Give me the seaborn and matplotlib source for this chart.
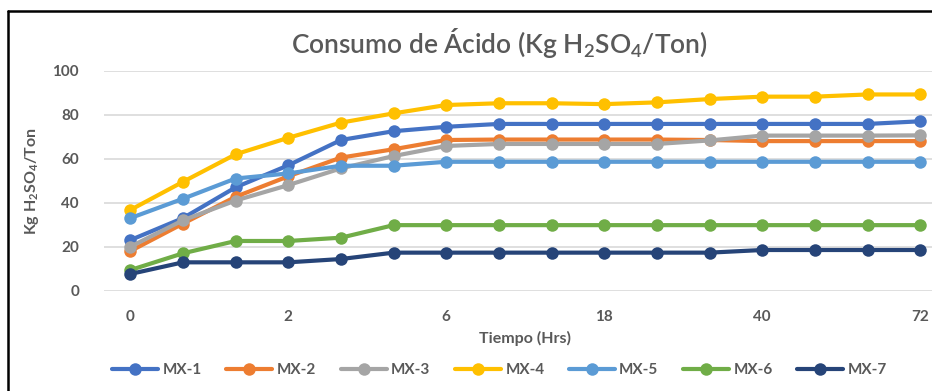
import pandas as pd
import seaborn as sns
import matplotlib.pyplot as plt
from matplotlib.lines import Line2D

# time points (hours) - only every third one is labelled on the axis
tiempo = ["0", "0.5", "1", "2", "3", "4", "6", "8", "12", "18", "24", "30", "40", "48", "60", "72"]
series = ["MX-1", "MX-2", "MX-3", "MX-4", "MX-5", "MX-6", "MX-7"]

mx1 = [23, 33, 47, 57, 68.5, 72.5, 74.5, 75.8, 75.8, 75.8, 75.8, 75.8, 75.8, 75.8, 75.8, 77]
mx2 = [18, 30.5, 42.7, 52, 60.5, 64.3, 68.5, 68.7, 68.7, 68.7, 68.7, 68.5, 68, 68, 68, 68]
mx3 = [20, 32, 41, 48, 55.6, 61.2, 65.8, 66.7, 66.7, 66.7, 66.7, 68.3, 70.5, 70.5, 70.5, 70.6]
mx4 = [36.7, 49.5, 62, 69.5, 76.4, 80.6, 84.4, 85.2, 85.2, 84.8, 85.6, 87.1, 88.2, 88.2, 89.2, 89.2]
mx5 = [33, 41.8, 51, 53.3, 56.8, 56.8, 58.6, 58.6, 58.6, 58.6, 58.6, 58.6, 58.6, 58.6, 58.6, 58.6]
mx6 = [9.4, 17, 22.6, 22.6, 24.1, 29.8, 29.8, 29.8, 29.8, 29.8, 29.8, 29.8, 29.8, 29.8, 29.8, 29.8]
mx7 = [7.6, 12.9, 12.9, 12.9, 14.4, 17.3, 17.3, 17.3, 17.3, 17.3, 17.3, 17.3, 18.5, 18.5, 18.5, 18.5]

colors = ["#4472C4", "#ED7D31", "#A5A5A5", "#FFC000", "#5B9BD5", "#70AD47", "#264478"]
tick_pos = [0, 3, 6, 9, 12, 15]
tick_lab = ["0", "2", "6", "18", "40", "72"]

sns.set_theme(style="white")
plt.rcParams["font.family"] = ["Lato", "DejaVu Sans"]
plt.rcParams["mathtext.fontset"] = "custom"
plt.rcParams["mathtext.rm"] = "Lato"
plt.rcParams["mathtext.bf"] = "Lato:bold"
plt.rcParams["mathtext.default"] = "regular"

rows = []
for name, vals in zip(series, [mx1, mx2, mx3, mx4, mx5, mx6, mx7]):
    for i, v in enumerate(vals):
        rows.append({"idx": i, "tiempo": tiempo[i], "valor": v, "serie": name})
df = pd.DataFrame(rows)

gray = "#595959"
fig = plt.figure(figsize=(9.32, 3.91), dpi=100)
ax = fig.add_axes([0.1116, 0.2565, 0.904, 0.5627])

sns.lineplot(data=df, x="idx", y="valor", hue="serie", palette=colors, ax=ax,
             marker="o", markersize=9, markeredgewidth=0, linewidth=3, legend=True)

ax.set_xlim(-0.5, 15.5)
ax.set_ylim(0, 100)
ax.set_yticks([0, 20, 40, 60, 80, 100])
ax.set_xticks(tick_pos)
ax.set_xticklabels(tick_lab)
ax.grid(axis="y", color="#D9D9D9", linewidth=1.2)
ax.set_axisbelow(True)
for s in ax.spines.values():
    s.set_visible(False)
ax.tick_params(axis="both", length=0, labelsize=11, labelcolor=gray, pad=14)
ax.tick_params(axis="y", pad=18)
for lab in ax.get_xticklabels() + ax.get_yticklabels():
    lab.set_fontweight("bold")

ax.set_xlabel("Tiempo (Hrs)", fontsize=11.5, fontweight="bold", color=gray, labelpad=5)
ax.set_ylabel("Kg H$_2$SO$_4$/Ton", fontsize=11.5, fontweight="bold", color=gray, labelpad=8)

fig.text(0.536, 0.89, "Consumo de Ácido (Kg H$_2$SO$_4$/Ton)", ha="center", va="center",
         fontsize=19, color=gray, fontweight="semibold")

handles, labels = ax.get_legend_handles_labels()
ax.get_legend().remove()
leg = fig.legend(handles, labels, loc="center", bbox_to_anchor=(0.536, 0.054),
                 ncol=7, frameon=False, handlelength=3.0, columnspacing=1.6, handletextpad=0.3,
                 prop={"weight": "bold", "size": 11})
for t in leg.get_texts():
    t.set_color(gray)

# black frame of the chart area (clipped on right and bottom)
fig.add_artist(Line2D([0.0091, 1.0], [0.9706, 0.9706], color="black", linewidth=1.8))
fig.add_artist(Line2D([0.0091, 0.0091], [0.0, 0.9706], color="black", linewidth=1.8))

fig.savefig("out.png", dpi=100)
